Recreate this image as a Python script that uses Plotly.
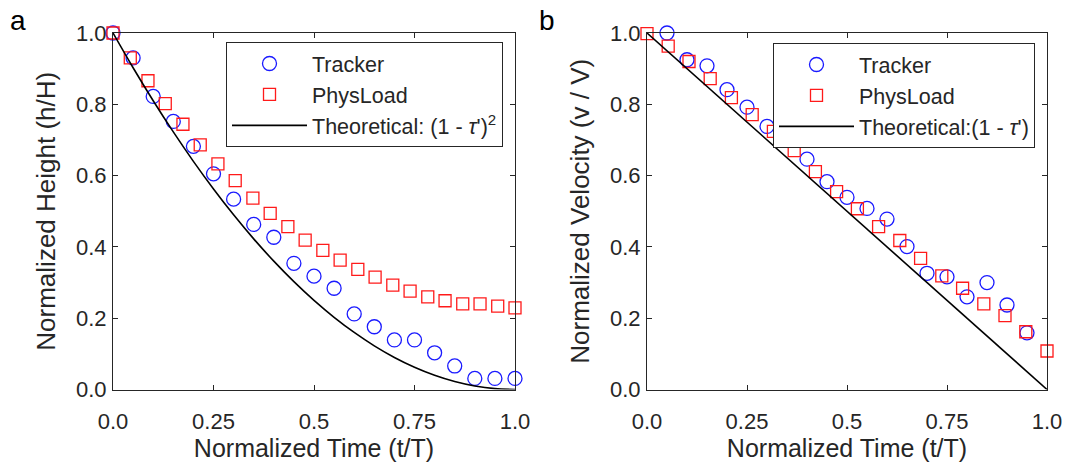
import plotly.graph_objects as go

# panel a: normalized height
tracker_t_a = [0, 0.05, 0.1, 0.15, 0.2, 0.25, 0.3, 0.35, 0.4, 0.45, 0.5,
               0.55, 0.6, 0.65, 0.7, 0.75, 0.8, 0.85, 0.9, 0.95, 1.0]
tracker_h = [1.0, 0.93, 0.822, 0.752, 0.682, 0.605, 0.534, 0.463, 0.427, 0.354, 0.318,
             0.284, 0.212, 0.176, 0.139, 0.139, 0.103, 0.066, 0.031, 0.031, 0.031]
physload_t_a = [0, 0.043, 0.087, 0.13, 0.174, 0.217, 0.261, 0.304, 0.348, 0.391, 0.435, 0.478,
                0.522, 0.565, 0.609, 0.652, 0.696, 0.739, 0.783, 0.826, 0.87, 0.913, 0.957, 1.0]
physload_h = [1.0, 0.93, 0.866, 0.802, 0.744, 0.686, 0.633, 0.586, 0.537, 0.494, 0.457, 0.419,
              0.39, 0.363, 0.337, 0.315, 0.293, 0.276, 0.26, 0.249, 0.24, 0.24, 0.234, 0.229]
theory_t_a = [0, 0.05, 0.1, 0.15, 0.2, 0.25, 0.3, 0.35, 0.4, 0.45, 0.5,
              0.55, 0.6, 0.65, 0.7, 0.75, 0.8, 0.85, 0.9, 0.95, 1.0]
theory_h = [1.0, 0.9025, 0.81, 0.7225, 0.64, 0.5625, 0.49, 0.4225, 0.36, 0.3025, 0.25,
            0.2025, 0.16, 0.1225, 0.09, 0.0625, 0.04, 0.0225, 0.01, 0.0025, 0.0]

# panel b: normalized velocity
tracker_t_b = [0.05, 0.1, 0.15, 0.2, 0.25, 0.3, 0.35, 0.4, 0.45, 0.5,
               0.55, 0.6, 0.65, 0.7, 0.75, 0.8, 0.85, 0.9, 0.95]
tracker_v = [1.0, 0.925, 0.908, 0.841, 0.792, 0.738, 0.705, 0.646, 0.583, 0.539,
             0.508, 0.478, 0.401, 0.326, 0.316, 0.26, 0.30, 0.237, 0.159]
physload_t_b = [0, 0.053, 0.105, 0.158, 0.211, 0.263, 0.316, 0.368, 0.421, 0.474,
                0.526, 0.579, 0.632, 0.684, 0.737, 0.789, 0.842, 0.895, 0.947, 1.0]
physload_v = [0.998, 0.963, 0.92, 0.872, 0.819, 0.771, 0.724, 0.67, 0.611, 0.555,
              0.507, 0.457, 0.418, 0.368, 0.319, 0.284, 0.24, 0.207, 0.162, 0.108]
theory_t_b = [0, 1.0]
theory_v = [1.0, 0.0]

x_ticks = [0, 0.25, 0.5, 0.75, 1.0]
x_ticktext = ["0.0", "0.25", "0.5", "0.75", "1.0"]
y_ticks = [0, 0.2, 0.4, 0.6, 0.8, 1.0]
y_ticktext = ["0.0", "0.2", "0.4", "0.6", "0.8", "1.0"]

# page body has an 8px margin, so layout pixels are offset by -8
W, H = 1071, 466
FONT = "Liberation Sans, Arial, sans-serif"
TXT = "#262626"
BLUE = "#1a1aff"
RED = "#ff1a1a"

fig = go.Figure()

def add_panel(xa, ya, leg, tt, tv, pt, pv, tht, thv, th_name):
    fig.add_trace(go.Scatter(x=tt, y=tv, mode="markers", name="Tracker", xaxis=xa, yaxis=ya,
                             legend=leg, cliponaxis=False,
                             marker=dict(symbol="circle-open", size=14, color=BLUE,
                                         line=dict(width=1.3, color=BLUE))))
    fig.add_trace(go.Scatter(x=pt, y=pv, mode="markers", name="PhysLoad", xaxis=xa, yaxis=ya,
                             legend=leg, cliponaxis=False,
                             marker=dict(symbol="square-open", size=12, color=RED,
                                         line=dict(width=1.3, color=RED))))
    fig.add_trace(go.Scatter(x=tht, y=thv, mode="lines", name=th_name, xaxis=xa, yaxis=ya,
                             legend=leg, line=dict(color="black", width=1.6, shape="spline")))

add_panel("x", "y", "legend", tracker_t_a, tracker_h, physload_t_a, physload_h,
          theory_t_a, theory_h, "Theoretical: (1 - <i>τ</i>')<sup>2</sup>")
add_panel("x2", "y2", "legend2", tracker_t_b, tracker_v, physload_t_b, physload_v,
          theory_t_b, theory_v, "Theoretical:(1 - <i>τ</i>')")

y_top = 1 - 25 / H
y_bot = 1 - 381.5 / H

axis_common = dict(range=[0, 1], showgrid=False, zeroline=False, showline=True, mirror="ticks",
                   linecolor="#262626", linewidth=1, ticks="inside", ticklen=5, tickcolor="#262626",
                   tickfont=dict(size=22, color=TXT, family=FONT), automargin=False)
xtitle_font = dict(size=25, color=TXT, family=FONT)
ytitle_font = dict(size=26, color=TXT, family=FONT)

fig.update_layout(
    width=W, height=H,
    margin=dict(l=0, r=0, t=0, b=0),
    paper_bgcolor="white", plot_bgcolor="white",
    font=dict(family=FONT, color=TXT),
    xaxis=dict(domain=[105 / W, 507 / W], anchor="y", tickvals=x_ticks, ticktext=x_ticktext,
               ticklabelstandoff=12,
               title=dict(text="Normalized Time (t/T)", font=xtitle_font, standoff=4), **axis_common),
    yaxis=dict(domain=[y_bot, y_top], anchor="x", tickvals=y_ticks, ticktext=y_ticktext,
               ticklabelstandoff=1,
               title=dict(text="Normalized Height (h/H)", font=ytitle_font, standoff=12), **axis_common),
    xaxis2=dict(domain=[639 / W, 1039 / W], anchor="y2", tickvals=x_ticks, ticktext=x_ticktext,
                ticklabelstandoff=12,
                title=dict(text="Normalized Time (t/T)", font=xtitle_font, standoff=4), **axis_common),
    yaxis2=dict(domain=[y_bot, y_top], anchor="x2", tickvals=y_ticks, ticktext=y_ticktext,
                ticklabelstandoff=1,
                title=dict(text="Normalized Velocity (v / V)", font=ytitle_font, standoff=12), **axis_common),
    legend=dict(x=218 / W, y=1 - 34 / H, xanchor="left", yanchor="top", bgcolor="white",
                bordercolor="#262626", borderwidth=1, itemwidth=75,
                font=dict(size=21.5, color=TXT, family=FONT)),
    legend2=dict(x=765 / W, y=1 - 35 / H, xanchor="left", yanchor="top", bgcolor="white",
                 bordercolor="#262626", borderwidth=1, itemwidth=75,
                 font=dict(size=21.5, color=TXT, family=FONT)),
    showlegend=True,
)

fig.add_annotation(text="a", x=0, y=1 - 12.5 / H, xref="paper", yref="paper",
                   xanchor="left", yanchor="middle", showarrow=False,
                   font=dict(size=28, color="black", family=FONT))
fig.add_annotation(text="b", x=529 / W, y=1 - 12.5 / H, xref="paper", yref="paper",
                   xanchor="left", yanchor="middle", showarrow=False,
                   font=dict(size=28, color="black", family=FONT))

fig.write_html("out.html")
